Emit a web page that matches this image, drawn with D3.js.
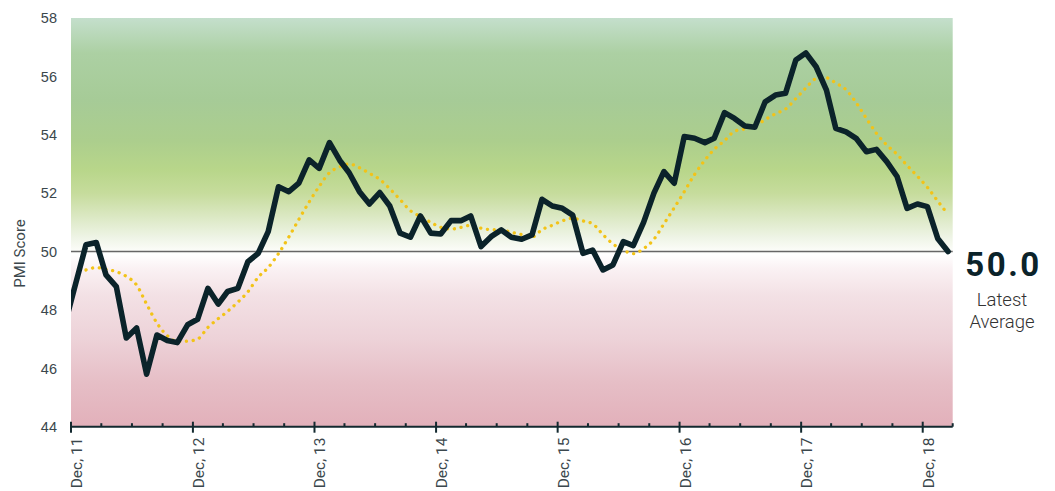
<!DOCTYPE html>
<html><head><meta charset="utf-8">
<script src="https://cdn.jsdelivr.net/npm/d3@7"></script>
<style>
html,body{margin:0;padding:0;background:#fff;}
svg{display:block;}
</style></head>
<body><svg id="chart" width="1055" height="491"></svg>
<script>
// ---- data ----
const months = [
 "2011-11","2011-12","2012-01","2012-02","2012-03","2012-04","2012-05","2012-06","2012-07","2012-08","2012-09","2012-10","2012-11","2012-12",
 "2013-01","2013-02","2013-03","2013-04","2013-05","2013-06","2013-07","2013-08","2013-09","2013-10","2013-11","2013-12",
 "2014-01","2014-02","2014-03","2014-04","2014-05","2014-06","2014-07","2014-08","2014-09","2014-10","2014-11","2014-12",
 "2015-01","2015-02","2015-03","2015-04","2015-05","2015-06","2015-07","2015-08","2015-09","2015-10","2015-11","2015-12",
 "2016-01","2016-02","2016-03","2016-04","2016-05","2016-06","2016-07","2016-08","2016-09","2016-10","2016-11","2016-12",
 "2017-01","2017-02","2017-03","2017-04","2017-05","2017-06","2017-07","2017-08","2017-09","2017-10","2017-11","2017-12",
 "2018-01","2018-02","2018-03","2018-04","2018-05","2018-06","2018-07","2018-08","2018-09","2018-10","2018-11","2018-12",
 "2019-01","2019-02"
];
const pmi = [
 47.6, 48.9, 50.23, 50.31, 49.2, 48.8, 47.04, 47.38, 45.8, 47.14, 46.95, 46.88, 47.49, 47.68,
 48.74, 48.2, 48.63, 48.74, 49.65, 49.94, 50.68, 52.22, 52.05, 52.34, 53.14, 52.85,
 53.73, 53.12, 52.7, 52.05, 51.63, 52.02, 51.56, 50.63, 50.49, 51.22, 50.63, 50.6,
 51.06, 51.06, 51.22, 50.17, 50.51, 50.74, 50.49, 50.42, 50.57, 51.79, 51.56, 51.48,
 51.25, 49.94, 50.05, 49.37, 49.54, 50.34, 50.2, 51.0, 52.0, 52.74, 52.34, 53.94,
 53.88, 53.73, 53.88, 54.76, 54.56, 54.3, 54.26, 55.13, 55.36, 55.42, 56.56, 56.8,
 56.33, 55.53, 54.22, 54.1, 53.88, 53.42, 53.5, 53.08, 52.57, 51.48, 51.63, 51.54,
 50.45, 50.0
];
const avg = [
 null, null, 49.37, 49.45, 49.39, 49.31, 49.15, 48.85, 48.2, 47.55, 47.12, 46.92, 46.93, 47.0,
 47.4, 47.7, 47.95, 48.27, 48.62, 49.12, 49.45, 49.93, 50.5, 51.1, 51.7, 52.23,
 52.7, 52.9, 53.0, 52.87, 52.68, 52.47, 52.15, 51.78, 51.4, 51.2, 51.0, 50.83,
 50.77, 50.83, 50.9, 50.8, 50.75, 50.74, 50.66, 50.58, 50.5, 50.75, 50.9, 51.05,
 51.14, 51.05, 50.95, 50.58, 50.26, 50.05, 49.93, 50.1, 50.42, 50.95, 51.5, 52.05,
 52.64, 53.13, 53.5, 53.8, 54.12, 54.2, 54.3, 54.52, 54.72, 54.88, 55.24, 55.6,
 55.92, 55.95, 55.77, 55.54, 55.1, 54.56, 54.05, 53.65, 53.33, 52.95, 52.58, 52.2,
 51.73, 51.27
];
const yTicks = [44, 46, 48, 50, 52, 54, 56, 58];
const yTitle = "PMI Score";
const latestLabel = ["Latest", "Average"];
const threshold = 50;

// ---- layout ----
const svg = d3.select("#chart");
const pL = 71, pR = 952.7, pT = 18, pB = 426.7;
const parse = d3.timeParse("%Y-%m-%d");
const dates = months.map(m => parse(m + "-15"));
const x = d3.scaleTime().domain([new Date(2011, 11, 1), new Date(2019, 2, 1)]).range([pL, pR]);
const y = d3.scaleLinear().domain([44, 58]).range([pB, pT]);

// gradient background
const defs = svg.append("defs");
const grad = defs.append("linearGradient").attr("id", "bg")
  .attr("gradientUnits", "userSpaceOnUse")
  .attr("x1", 0).attr("x2", 0).attr("y1", y(58)).attr("y2", y(44));
const stops = [
  [58, "#c4dfcc"], [56.8, "#acd0a3"], [55.2, "#a6cb97"], [53.8, "#acce8d"], [52.8, "#b8d68a"],
  [52.0, "#c6dc9c"], [51.2, "#dbe8c3"], [50.5, "#eef4e5"], [50.05, "#fbfcf8"], [49.9, "#ffffff"],
  [49.4, "#faf1f3"], [48.5, "#f3e1e5"], [47, "#edd2d8"], [45.5, "#e6bec6"], [44, "#e2b0ba"]
];
stops.forEach(([v, c]) => {
  grad.append("stop").attr("offset", (y(v) - y(58)) / (y(44) - y(58))).attr("stop-color", c);
});
defs.append("clipPath").attr("id", "clip").append("rect")
  .attr("x", pL).attr("y", 0).attr("width", pR - pL).attr("height", pB + 2);

svg.append("rect").attr("x", pL).attr("y", y(58)).attr("width", pR - pL)
  .attr("height", y(44) - y(58)).attr("fill", "url(#bg)");

// threshold line
svg.append("line").attr("x1", pL).attr("x2", pR)
  .attr("y1", y(threshold)).attr("y2", y(threshold))
  .attr("stroke", "#666").attr("stroke-width", 1.6);

// y labels
svg.append("g").selectAll("text").data(yTicks).join("text")
  .attr("x", 57).attr("y", d => y(d)).attr("dy", "0.36em")
  .attr("text-anchor", "end")
  .style("font-family", "'Liberation Sans', Arial, sans-serif").style("font-size", "14.5px")
  .attr("fill", "#3b474c").text(d => d);

svg.append("text").attr("transform", `translate(24.5,253.5) rotate(-90)`)
  .attr("text-anchor", "middle")
  .style("font-family", "Roboto, sans-serif").style("font-size", "15px")
  .attr("fill", "#3b474c").text(yTitle);

// lines
const gLines = svg.append("g").attr("clip-path", "url(#clip)");
const avgData = dates.map((d, i) => [d, avg[i]]).filter(d => d[1] !== null);
gLines.append("path").datum(avgData)
  .attr("d", d3.line().x(d => x(d[0])).y(d => y(d[1])).curve(d3.curveMonotoneX))
  .attr("fill", "none").attr("stroke", "#f2c318").attr("stroke-width", 3.3)
  .attr("stroke-linecap", "round").attr("stroke-dasharray", "0.1 6.7");

gLines.append("path").datum(dates.map((d, i) => [d, pmi[i]]))
  .attr("d", d3.line().x(d => x(d[0])).y(d => y(d[1])))
  .attr("fill", "none").attr("stroke", "#0b232a").attr("stroke-width", 5.6)
  .attr("stroke-linejoin", "round").attr("stroke-linecap", "round");

// x axis
const majors = d3.timeYear.range(new Date(2011, 0, 1), new Date(2019, 0, 1)).map(d => new Date(d.getFullYear(), 11, 1));
const minors = d3.timeMonth.range(new Date(2011, 11, 1), new Date(2019, 2, 2), 3).filter(d => d.getMonth() !== 11);
const ax = svg.append("g");
ax.append("line").attr("x1", pL - 1).attr("x2", pR).attr("y1", pB).attr("y2", pB)
  .attr("stroke", "#13292f").attr("stroke-width", 2);
ax.selectAll("line.maj").data(majors).join("line").attr("class", "maj")
  .attr("x1", d => x(d)).attr("x2", d => x(d)).attr("y1", pB - 5).attr("y2", pB + 6)
  .attr("stroke", "#13292f").attr("stroke-width", 2);
ax.selectAll("line.min").data(minors).join("line").attr("class", "min")
  .attr("x1", d => x(d)).attr("x2", d => x(d)).attr("y1", pB - 3.5).attr("y2", pB)
  .attr("stroke", "#13292f").attr("stroke-width", 2);
const fmt = d3.timeFormat("%b, %y");
ax.selectAll("text").data(majors).join("text")
  .attr("transform", d => `translate(${x(d) + 11},437.5) rotate(-90)`)
  .attr("text-anchor", "end")
  .style("font-family", "Roboto, sans-serif").style("font-size", "15.5px")
  .attr("fill", "#3b474c").text(d => fmt(d));

// latest annotation
const last = pmi[pmi.length - 1];
svg.append("text").attr("x", 1003.5).attr("y", 275.5).attr("text-anchor", "middle")
  .style("font-family", "Roboto, sans-serif").style("font-size", "33px").style("font-weight", "bold")
  .style("letter-spacing", "2.5px")
  .attr("fill", "#0b232a").text(d3.format(".1f")(last));
svg.append("g").selectAll("text").data(latestLabel).join("text")
  .attr("x", 1002).attr("y", (d, i) => 306 + i * 22.3).attr("text-anchor", "middle")
  .style("font-family", "Roboto, sans-serif").style("font-size", "18.5px").style("font-weight", 300)
  .attr("fill", "#333").text(d => d);
</script>
</body></html>
